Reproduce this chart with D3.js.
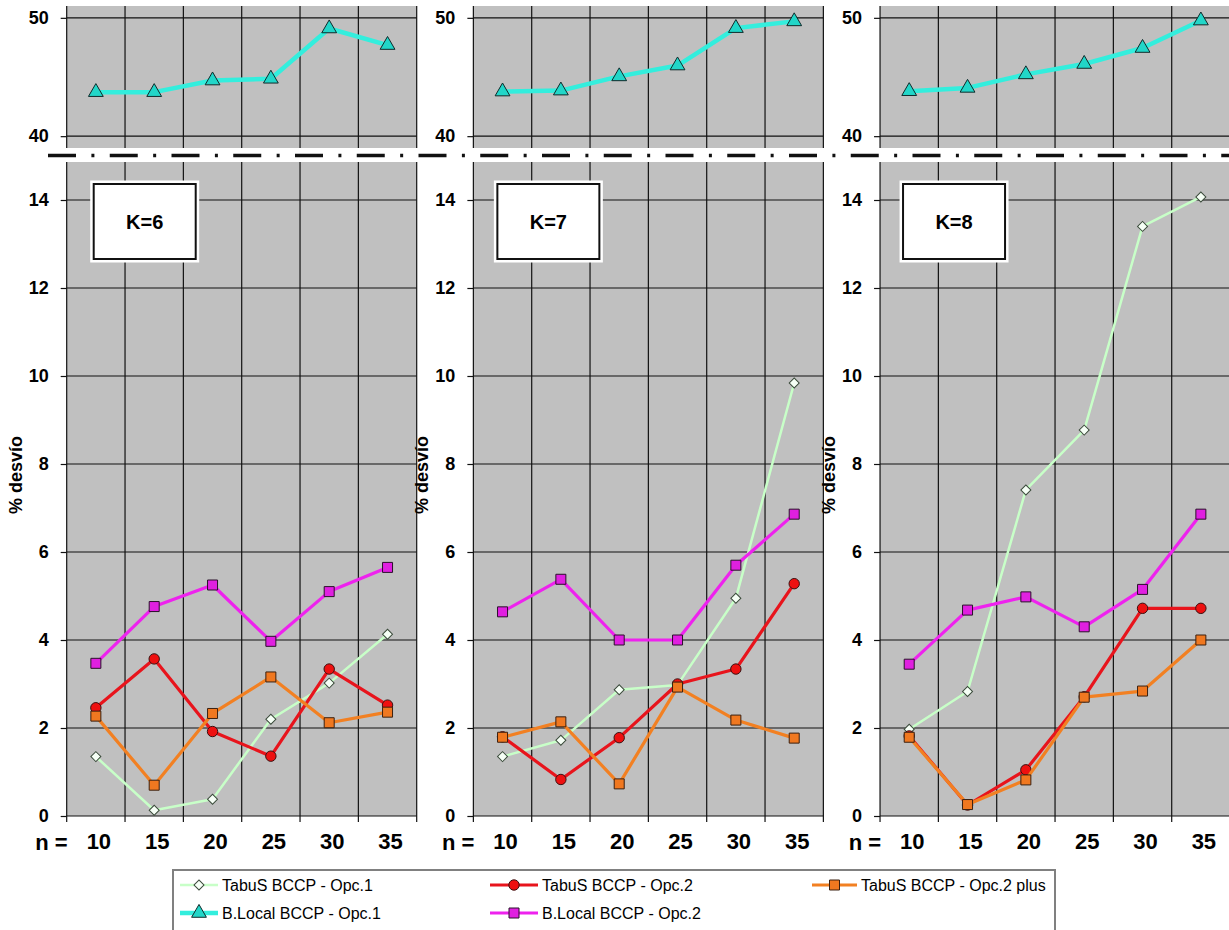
<!DOCTYPE html>
<html><head><meta charset="utf-8">
<script src="https://cdn.jsdelivr.net/npm/d3@7"></script>
<style>body{margin:0;background:#fff}svg{display:block}text{font-family:"Liberation Sans",Arial,Helvetica,sans-serif}</style>
</head><body><svg id="c" width="1229" height="930"></svg>
<script>
// ---------- data ----------
const categories = ["10","15","20","25","30","35"];
const panelLabels = ["K=6","K=7","K=8"];
const yTicksMain = [0,2,4,6,8,10,12,14];
const yTicksTop = [40,50];
const seriesNames = ["TabuS BCCP - Opc.1","TabuS BCCP - Opc.2","TabuS BCCP - Opc.2 plus","B.Local BCCP - Opc.1","B.Local BCCP - Opc.2"];
// one row per panel: K=6, K=7, K=8
const tabuOpc1     = [[1.35,0.13,0.38,2.20,3.02,4.13],[1.35,1.72,2.87,2.98,4.95,9.84],[1.97,2.83,7.41,8.77,13.40,14.07]];
const tabuOpc2     = [[2.46,3.57,1.92,1.36,3.34,2.52],[1.80,0.83,1.78,3.00,3.34,5.28],[1.82,0.25,1.05,2.71,4.72,4.72]];
const tabuOpc2plus = [[2.27,0.70,2.33,3.16,2.12,2.36],[1.79,2.14,0.73,2.93,2.18,1.77],[1.79,0.26,0.82,2.70,2.84,4.00]];
const localOpc1    = [[43.72,43.72,44.70,44.85,49.10,47.70],[43.77,43.85,45.05,45.97,49.13,49.70],[43.80,44.08,45.22,46.10,47.45,49.77]];
const localOpc2    = [[3.47,4.76,5.25,3.97,5.10,5.65],[4.64,5.38,4.00,4.00,5.70,6.86],[3.45,4.68,4.98,4.30,5.15,6.86]];

// ---------- styles ----------
const styles = [
  {color:"#c8ffc8", width:2.5, symbol:d3.symbolSquare,   size:50,  rot:45, fill:"#f6fff6", stroke:"#3a4a3a"},
  {color:"#e8141c", width:3.2, symbol:d3.symbolCircle,   size:85,  rot:0,  fill:"#ee1010", stroke:"#3a1010"},
  {color:"#f28022", width:3.2, symbol:d3.symbolSquare,   size:100, rot:0,  fill:"#f07820", stroke:"#3a2010"},
  {color:"#33eedd", width:4.5, symbol:d3.symbolTriangle, size:95,  rot:0,  fill:"#22d6c8", stroke:"#0f2a2a"},
  {color:"#ee22ee", width:3.2, symbol:d3.symbolSquare,   size:100, rot:0,  fill:"#e020e0", stroke:"#2a102a"}
];
const mainSeries = [tabuOpc1, tabuOpc2, tabuOpc2plus, null, localOpc2];

const svg = d3.select("#c");
const FONT = '"Liberation Sans",Arial,sans-serif';
const plotW = 350, panelStep = 406.67, firstLeft = 66.7;
const boxOffsets = [27, 24, 23];

panelLabels.forEach((lab, p) => {
  const left = firstLeft + p*panelStep;
  const x = d3.scaleBand().domain(categories).range([left, left+plotW]);
  const bw = x.bandwidth();
  const yMain = d3.scaleLinear().domain([0,15]).range([816,156]);
  const yTop  = d3.scaleLinear().domain([39,51]).range([148,6]);
  const g = svg.append("g");
  const bounds = categories.map(c => x(c)).concat([left+plotW]);

  [[yMain, yTicksMain],[yTop, yTicksTop]].forEach(([y, ticks]) => {
    const [y0,y1] = y.range();
    g.append("rect").attr("x",left).attr("y",y1).attr("width",plotW).attr("height",y0-y1).attr("fill","#c0c0c0");
    g.selectAll(null).data(ticks).enter().append("line")
      .attr("x1",left).attr("x2",left+plotW).attr("y1",d=>y(d)).attr("y2",d=>y(d))
      .attr("stroke","#111").attr("stroke-width",1.2);
    g.selectAll(null).data(bounds).enter().append("line")
      .attr("x1",d=>d).attr("x2",d=>d).attr("y1",y1).attr("y2",y0)
      .attr("stroke","#111").attr("stroke-width",1.2);
    const ax = g.append("g").attr("transform",`translate(${left},0)`)
      .call(d3.axisLeft(y).tickValues(ticks).tickSize(6).tickPadding(12).tickFormat(d3.format("d")));
    ax.select(".domain").remove();
    ax.selectAll("line").attr("stroke","#111").attr("stroke-width",1.2);
    ax.selectAll("text").attr("font-family",FONT).attr("font-size",18).attr("font-weight","bold").attr("fill","#000");
  });

  // x tick marks at band boundaries
  g.selectAll(null).data(bounds).enter().append("line")
    .attr("x1",d=>d).attr("x2",d=>d).attr("y1",816).attr("y2",822).attr("stroke","#111").attr("stroke-width",1.2);
  const xa = g.append("g").attr("transform","translate(3,816)")
    .call(d3.axisBottom(x).tickSize(0).tickPadding(17));
  xa.select(".domain").remove();
  xa.selectAll("text").attr("font-family",FONT).attr("font-size",22).attr("font-weight","bold").attr("fill","#000");
  g.append("text").attr("x",left+1).attr("y",850).attr("text-anchor","end")
    .attr("font-size",22).attr("font-weight","bold").text("n =");

  // y title
  g.append("text").attr("transform",`translate(${left-45},475) rotate(-90)`).attr("text-anchor","middle")
    .attr("font-size",18).attr("font-weight","bold").text("% desvío");

  // series
  const line = y => d3.line().x((d,i)=>x(categories[i])+bw/2).y(d=>y(d));
  styles.forEach((st, s) => {
    const vals = s===3 ? localOpc1[p] : mainSeries[s][p];
    const y = s===3 ? yTop : yMain;
    g.append("path").datum(vals).attr("d", line(y)).attr("fill","none")
      .attr("stroke",st.color).attr("stroke-width",st.width).attr("stroke-linejoin","round");
    g.selectAll(null).data(vals).enter().append("path")
      .attr("d", d3.symbol().type(st.symbol).size(st.size))
      .attr("transform",(d,i)=>`translate(${x(categories[i])+bw/2},${y(d)}) rotate(${st.rot})`)
      .attr("fill",st.fill).attr("stroke",st.stroke).attr("stroke-width",1);
  });

  // K label box
  const bx = left + boxOffsets[p];
  g.append("rect").attr("x",bx).attr("y",184).attr("width",102).attr("height",75)
    .attr("fill","#fff").attr("stroke","#fff").attr("stroke-width",7);
  g.append("rect").attr("x",bx).attr("y",184).attr("width",102).attr("height",75)
    .attr("fill","#fff").attr("stroke","#111").attr("stroke-width",2);
  g.append("text").attr("x",bx+51).attr("y",229).attr("text-anchor","middle")
    .attr("font-size",20).attr("font-weight","bold").text(lab);
});

// axis break band
svg.append("rect").attr("x",0).attr("y",149).attr("width",1229).attr("height",13).attr("fill","#fff");
svg.append("line").attr("x1",48).attr("x2",1229).attr("y1",155.5).attr("y2",155.5)
  .attr("stroke","#111").attr("stroke-width",3.5).attr("stroke-dasharray","28 15.4 3 15.35");

// legend
const leg = svg.append("g");
leg.append("rect").attr("x",173).attr("y",870).attr("width",882).attr("height",80)
  .attr("fill","#fff").attr("stroke","#808080").attr("stroke-width",2);
const legPos = [[180,885,38],[490,885,48],[812,885,45],[180,913,38],[490,913,48]];
styles.forEach((st, s) => {
  const [lx, ly, lw] = legPos[s];
  leg.append("line").attr("x1",lx).attr("x2",lx+lw).attr("y1",ly).attr("y2",ly)
    .attr("stroke",st.color).attr("stroke-width",st.width);
  leg.append("path").attr("d",d3.symbol().type(st.symbol).size(st.size))
    .attr("transform",`translate(${lx+lw/2},${ly}) rotate(${st.rot})`).attr("fill",st.fill).attr("stroke",st.stroke);
  leg.append("text").attr("x",lx+lw+4).attr("y",ly+6).attr("font-size",16).attr("fill","#000").text(seriesNames[s]);
});
</script></body></html>
